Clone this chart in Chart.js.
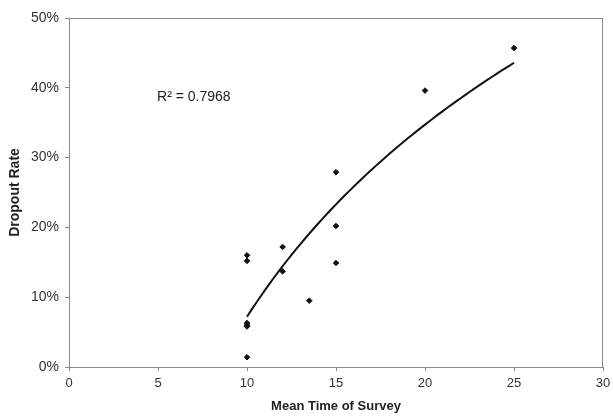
<!DOCTYPE html>
<html>
<head>
<meta charset="utf-8">
<script src="https://cdn.jsdelivr.net/npm/chart.js@4"></script>
<style>
  html, body { margin: 0; padding: 0; background: #fff; }
  #wrap { width: 613px; height: 418px; }
</style>
</head>
<body>
<div id="wrap"><canvas id="chart" width="613" height="418"></canvas></div>
<script>
// survey length vs dropout
const surveyMinutes = [10, 10, 10, 10, 10, 10, 12, 12, 13.5, 15, 15, 15, 20, 25];
const dropoutPct   = [16.0, 15.2, 6.3, 6.0, 5.8, 1.4, 17.2, 13.7, 9.5, 27.9, 20.2, 14.9, 39.6, 45.7];
const xTicks = [0, 5, 10, 15, 20, 25, 30];
const yTicks = [0, 10, 20, 30, 40, 50];
const rSquaredLabel = 'R² = 0.7968';
const AXIS = '#8a8a8a';
const TEXT = '#333';
const FONT = '"Liberation Sans", Arial, sans-serif';

// log trendline (y = a + b ln x), least squares over the points above
function logFit(xs, ys) {
  const u = xs.map(Math.log);
  const n = u.length;
  const mu = u.reduce((s, v) => s + v, 0) / n;
  const my = ys.reduce((s, v) => s + v, 0) / n;
  let suu = 0, suy = 0;
  u.forEach((v, i) => { suu += (v - mu) ** 2; suy += (v - mu) * (ys[i] - my); });
  const b = suy / suu;
  return { a: my - b * mu, b };
}
const fit = logFit(surveyMinutes, dropoutPct);
const xMin = Math.min(...surveyMinutes), xMax = Math.max(...surveyMinutes);
const trend = [];
for (let i = 0; i <= 60; i++) {
  const x = xMin + (xMax - xMin) * i / 60;
  trend.push({ x, y: fit.a + fit.b * Math.log(x) });
}

const frame = {
  id: 'frame',
  afterDraw(chart) {
    const { ctx, chartArea: a, scales } = chart;
    ctx.save();
    ctx.strokeStyle = AXIS;
    ctx.lineWidth = 1;
    ctx.strokeRect(a.left + 0.5, a.top + 0.5, a.right - a.left - 1, a.bottom - a.top);
    ctx.fillStyle = '#222';
    ctx.font = '14px ' + FONT;
    ctx.textBaseline = 'middle';
    ctx.fillText(rSquaredLabel, scales.x.getPixelForValue(4.95), scales.y.getPixelForValue(38.6));
    ctx.restore();
  }
};

new Chart(document.getElementById('chart'), {
  type: 'scatter',
  data: {
    datasets: [
      { label: 'Dropout', data: surveyMinutes.map((x, i) => ({ x, y: dropoutPct[i] })),
        backgroundColor: '#111', borderColor: '#111', pointStyle: 'rectRot', pointRadius: 2.8, order: 1 },
      { label: 'Log trend', type: 'line', data: trend, borderColor: '#111', borderWidth: 2,
        pointRadius: 0, fill: false, tension: 0, order: 2 }
    ]
  },
  options: {
    responsive: false,
    animation: false,
    layout: { padding: { top: 18, right: 10, left: 0, bottom: 0 } },
    scales: {
      x: {
        type: 'linear', min: 0, max: 30,
        afterBuildTicks: s => { s.ticks = xTicks.map(v => ({ value: v })); },
        afterFit: s => { s.height = 51; s.paddingRight = 0; },
        grid: { drawOnChartArea: false, color: AXIS, tickLength: 4 },
        border: { color: AXIS },
        ticks: { color: TEXT, font: { family: FONT, size: 13 }, padding: 5 },
        title: { display: true, text: 'Mean Time of Survey', color: '#222',
          font: { family: FONT, size: 13, weight: 'bold' }, padding: { top: 4 } }
      },
      y: {
        min: 0, max: 50,
        afterBuildTicks: s => { s.ticks = yTicks.map(v => ({ value: v })); },
        afterFit: s => { s.width = 69; s.paddingTop = 0; },
        grid: { drawOnChartArea: false, color: AXIS, tickLength: 4 },
        border: { color: AXIS },
        ticks: { color: TEXT, font: { family: FONT, size: 14 }, padding: 6,
          callback: v => v + '%' },
        title: { display: true, text: 'Dropout Rate', color: '#222',
          font: { family: FONT, size: 14, weight: 'bold' }, padding: { top: 7 } }
      }
    },
    plugins: { legend: { display: false }, tooltip: { enabled: false } }
  },
  plugins: [frame]
});
</script>
</body>
</html>
